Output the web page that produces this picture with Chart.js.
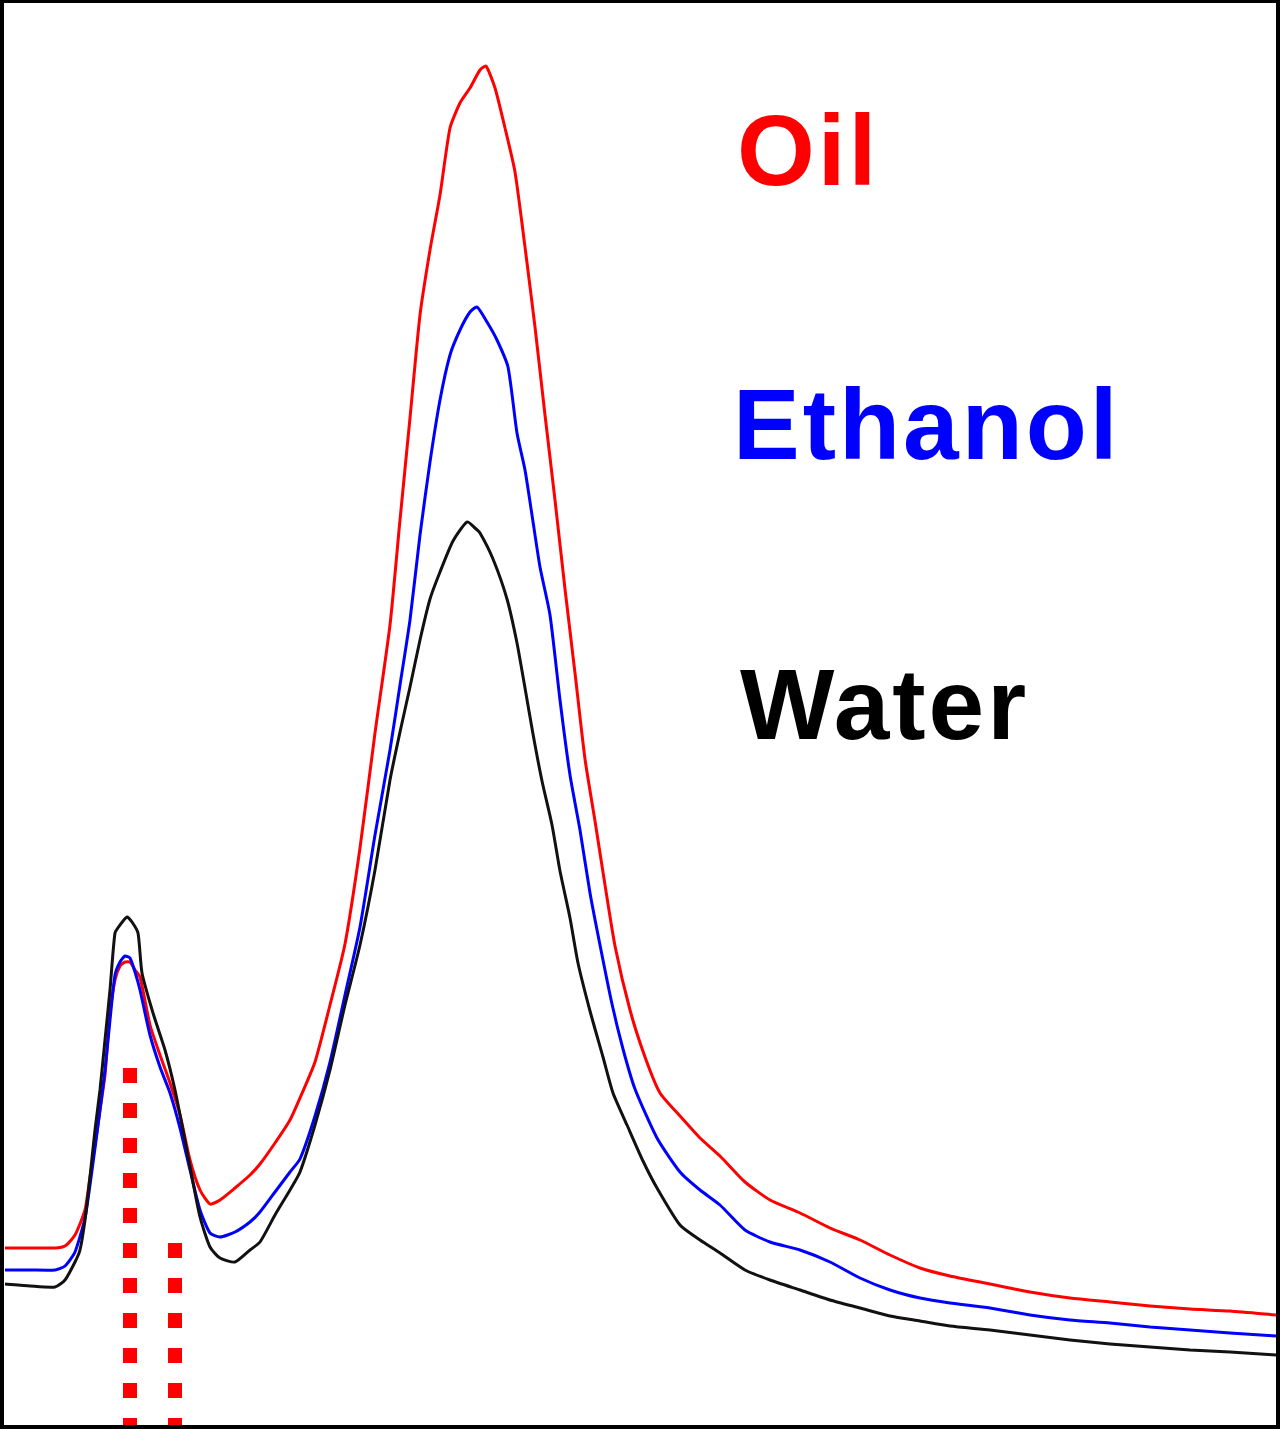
<!DOCTYPE html>
<html>
<head>
<meta charset="utf-8">
<script src="https://cdn.jsdelivr.net/npm/chart.js@4.4.1/dist/chart.umd.min.js"></script>
<style>
  html, body { margin: 0; padding: 0; background: #fff; }
  #wrap { position: relative; width: 1280px; height: 1429px; overflow: hidden; }
  #chart { position: absolute; left: 0; top: 0; }
  #frame { position: absolute; left: 0; top: 0; width: 1280px; height: 1429px; box-sizing: border-box;
           border: 4px solid #000; border-top-width: 3px; pointer-events: none; }
  .lbl { position: absolute; font-family: "Liberation Sans", Arial, sans-serif; font-weight: bold;
         font-size: 100px; line-height: 1; white-space: nowrap; letter-spacing: 3px; }
</style>
</head>
<body>
<div id="wrap">
  <canvas id="chart" width="1280" height="1429"></canvas>
  <div id="frame"></div>
  <div class="lbl" style="left:737px; top:100px; color:#ff0000;">Oil</div>
  <div class="lbl" style="left:733px; top:374px; color:#0000ff;">Ethanol</div>
  <div class="lbl" style="left:740px; top:654px; color:#000000;">Water</div>
</div>
<script>
// channel positions and intensities (arbitrary units)
var oilX = [5,30,55,65,75,85,90,95,100,105,110,115,120,125,130,135,140,150,160,170,180,190,200,210,220,235,250,260,275,290,300,315,330,345,360,375,390,400,410,420,430,440,450,460,470,480,486,495,505,515,525,535,545,555,565,575,585,595,605,615,630,645,660,680,700,720,745,770,800,830,860,890,920,950,990,1030,1070,1110,1150,1190,1230,1276];
var oilY = [181,181,181,183,194,219,252,284,319,354,416,449,463,467,467,459,452,404,374,346,314,269,239,225,229,241,254,265,286,309,331,367,424,485,581,696,804,909,1011,1114,1179,1234,1301,1326,1341,1359,1363,1341,1301,1257,1182,1102,1014,929,840,756,670,608,544,483,419,372,336,313,291,273,247,229,216,201,189,174,161,153,145,137,131,127,123,120,118,114];

var ethanolX = [5,30,55,65,75,85,90,95,100,105,110,115,120,125,130,135,140,150,160,170,180,190,200,210,220,235,250,260,275,290,300,315,330,345,360,375,390,400,410,420,430,440,450,460,470,477,487,497,508,517,525,532,540,550,560,570,580,590,600,612,623,635,657,680,700,720,745,770,800,830,860,890,920,950,990,1030,1070,1110,1150,1190,1230,1276];
var ethanolY = [159,159,159,163,177,211,244,281,319,359,409,454,467,473,471,457,439,394,362,336,301,259,219,196,192,197,207,217,237,257,270,313,367,434,502,594,679,744,809,894,967,1029,1074,1099,1117,1122,1107,1089,1062,996,959,914,862,814,729,654,599,536,484,425,380,340,291,257,239,224,199,187,179,167,151,139,131,126,121,114,109,106,102,99,96,93];

var waterX = [5,30,55,65,75,80,85,90,95,100,105,110,115,120,127,132,138,142,153,165,175,183,192,200,210,220,235,250,260,275,290,300,315,330,345,360,375,390,400,410,420,430,440,453,467,475,480,493,507,517,525,533,542,552,560,570,578,590,603,613,627,643,657,680,700,720,745,770,800,830,860,890,920,950,990,1030,1070,1110,1150,1190,1230,1276];
var waterY = [145,143,142,149,167,179,209,252,299,339,389,439,496,504,512,507,496,456,416,379,339,299,252,212,182,171,167,179,187,214,239,257,304,359,424,484,559,649,697,742,789,830,857,888,907,901,896,870,830,786,741,695,648,604,558,511,466,418,372,336,304,268,241,204,189,176,159,149,139,129,121,113,108,103,99,94,89,85,82,79,77,74];

// dotted marker lines: channel and top of each line
var markerX = [130, 175];
var markerTop = [361, 186];

function pts(xs, ys) {
    return xs.map(function (x, i) { return {x: x, y: ys[i]}; });
}

function curve(label, xs, ys, color) {
    return {
        label: label,
        data: pts(xs, ys),
        borderColor: color,
        borderWidth: 3,
        pointRadius: 0,
        tension: 0.2,
        fill: false
    };
}

function marker(i) {
    return {
        label: 'marker' + i,
        data: [{x: markerX[i], y: markerTop[i]}, {x: markerX[i], y: 0}],
        borderColor: '#ff0000',
        borderWidth: 14,
        borderDash: [15, 20],
        borderCapStyle: 'butt',
        pointRadius: 0,
        tension: 0,
        fill: false
    };
}

var ctx = document.getElementById('chart');
new Chart(ctx, {
    type: 'line',
    data: {
        datasets: [
            curve('Water', waterX, waterY, '#111111'),
            curve('Ethanol', ethanolX, ethanolY, '#0000ff'),
            curve('Oil', oilX, oilY, '#ff0000'),
            marker(0),
            marker(1)
        ]
    },
    options: {
        responsive: false,
        animation: false,
        layout: { padding: 0 },
        plugins: { legend: { display: false }, tooltip: { enabled: false } },
        scales: {
            x: { type: 'linear', min: 0, max: 1280, display: false },
            y: { min: 0, max: 1429, display: false }
        }
    }
});
</script>
</body>
</html>
